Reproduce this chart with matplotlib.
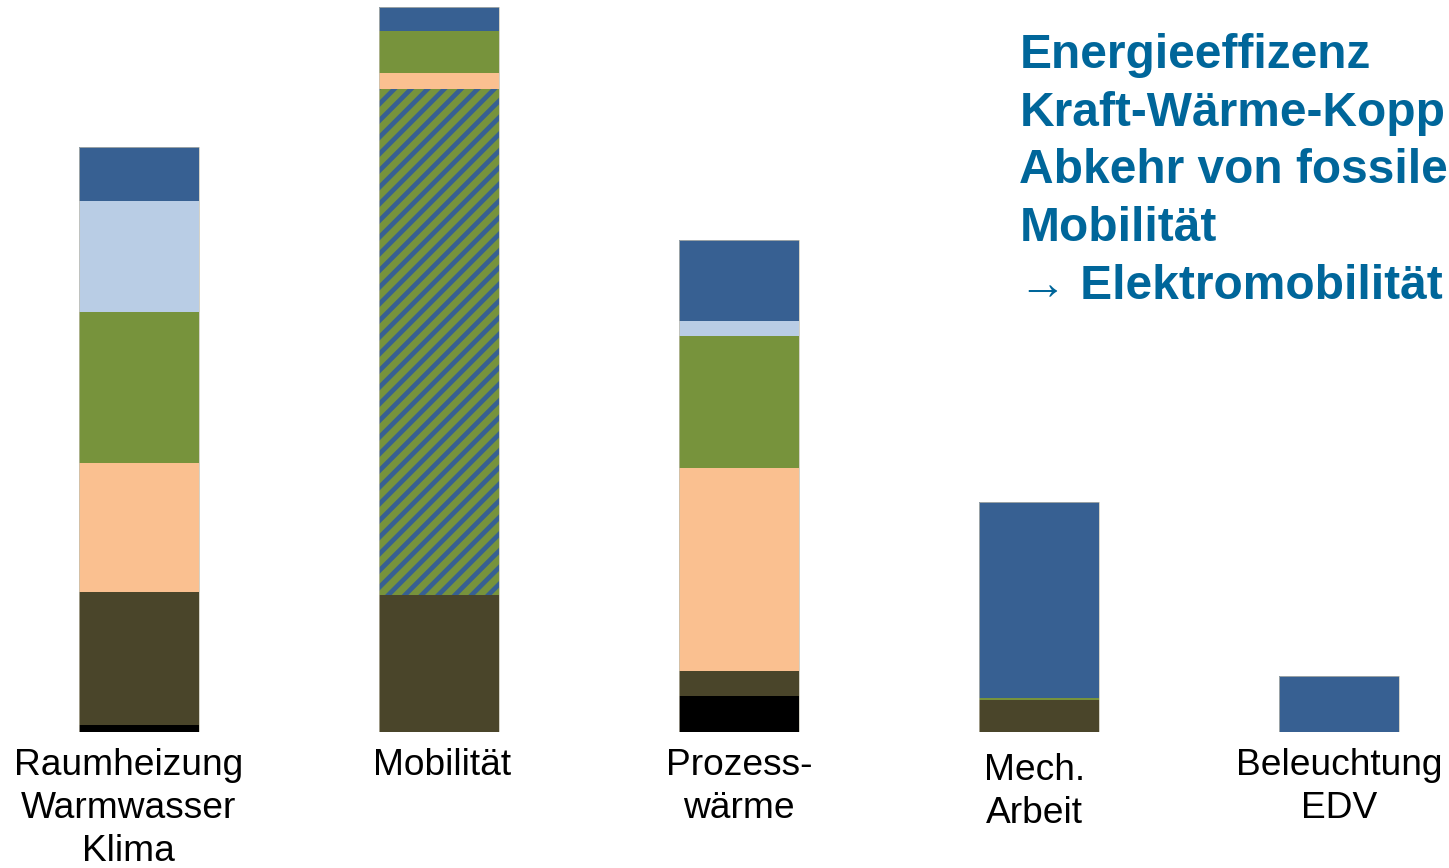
import numpy as np
import matplotlib
matplotlib.use("Agg")
import matplotlib.pyplot as plt

plt.rcParams["font.family"] = ["Liberation Sans", "DejaVu Sans"]
plt.rcParams["hatch.linewidth"] = 3.4

# categories and stacked segments (heights in chart units), bottom to top
kategorien = ["Raumheizung\nWarmwasser\nKlima", "Mobilität", "Prozess-\nwärme",
              "Mech.\nArbeit", "Beleuchtung\nEDV"]
kohle = [7, 0, 36, 0, 0]
oel = [133, 137, 25, 32, 0]
kraftstoff = [0, 506, 0, 0, 0]
gas = [129, 16, 203, 0, 0]
erneuerbar = [151, 42, 132, 2, 0]
fernwaerme = [111, 0, 15, 0, 0]
strom = [54, 24, 81, 196, 56]

# as visible in the reference (cut at the right edge)
hinweise = ["Energieeffizenz", "Kraft-Wärme-Kopp", "Abkehr von fossile",
            "Mobilität", "\u2192 Elektromobilität"]

segmente = [
    (kohle, "#000000", None),
    (oel, "#4a452a", None),
    (kraftstoff, "#77933c", "//"),
    (gas, "#fac090", None),
    (erneuerbar, "#77933c", None),
    (fernwaerme, "#b9cde5", None),
    (strom, "#376092", None),
]

W, H = 1449, 868
fig = plt.figure(figsize=(W / 100, H / 100), dpi=100)
ax = fig.add_axes([0, 136 / H, 1, 732 / H])

x = np.arange(len(kategorien))
unten = np.zeros(len(kategorien))
for werte, farbe, muster in segmente:
    werte = np.array(werte, dtype=float)
    if muster:
        ax.bar(x, werte, 0.4, bottom=unten, color=farbe, edgecolor="#376092",
               hatch=muster, linewidth=0)
    else:
        ax.bar(x, werte, 0.4, bottom=unten, color=farbe, linewidth=0)
    unten += werte

# thin light outline round each bar
ax.bar(x, unten, 0.4, fill=False, edgecolor="#c4c0b0", linewidth=0.5)

ax.set_xlim(-139 / 300, (W - 139) / 300)
ax.set_ylim(0, 732)
ax.axis("off")

dx = [-0.035, 0.01, 0, -0.015, 0]
for i, name in enumerate(kategorien):
    dy = -21 if name.startswith("Mech") else -16
    ax.text(x[i] + dx[i], dy, name, ha="center", va="top", fontsize=26.7,
            linespacing=1.3, clip_on=False)

for i, zeile in enumerate(hinweise):
    fig.text(1019.5 / W, 1 - (68 + 57.7 * i) / H, zeile, ha="left",
             va="baseline", fontsize=34.5, fontweight="bold", color="#00669a")

fig.savefig("out.png", dpi=100)
